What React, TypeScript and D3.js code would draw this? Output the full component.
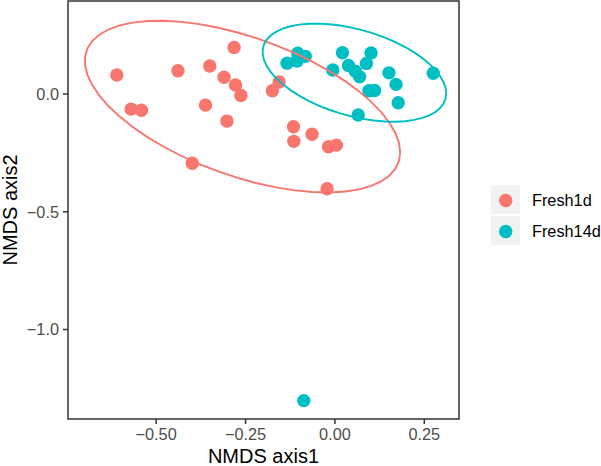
import React from "react";
import * as d3 from "d3";

const groupNames = ["Fresh1d", "Fresh14d"];
const groupColors = ["#F8766D", "#00BFC4"];

const fresh1dX = [-0.610, -0.439, -0.350, -0.282, -0.310, -0.278, -0.263, -0.570, -0.541, -0.362, -0.302, -0.399, -0.175, -0.156, -0.116, -0.115, -0.064, -0.018, 0.004, -0.022];
const fresh1dY = [0.081, 0.099, 0.119, 0.198, 0.071, 0.038, -0.006, -0.064, -0.069, -0.047, -0.115, -0.294, 0.014, 0.051, -0.139, -0.201, -0.171, -0.224, -0.217, -0.402];

const fresh14dX = [-0.134, -0.104, -0.083, -0.106, 0.021, -0.006, 0.038, 0.057, 0.069, 0.101, 0.088, 0.151, 0.171, 0.095, 0.111, 0.177, 0.065, 0.275, -0.087];
const fresh14dY = [0.131, 0.173, 0.160, 0.140, 0.175, 0.102, 0.121, 0.097, 0.073, 0.174, 0.130, 0.090, 0.041, 0.014, 0.015, -0.037, -0.089, 0.088, -1.302];

const xDomain = [-0.7465, 0.347];
const yDomain = [-1.38, 0.395];
const xTicks = [-0.5, -0.25, 0, 0.25];
const xTickLabels = ["\u22120.50", "\u22120.25", "0.00", "0.25"];
const yTicks = [0, -0.5, -1.0];
const yTickLabels = ["0.0", "\u22120.5", "\u22121.0"];

const W = 601;
const H = 466;
const P = { l: 68, t: 1, r: 459, b: 419 };
const FONT = "'Liberation Sans', Arial, Helvetica, sans-serif";

// MASS::cov.trob (2D)
function covTrob(xs: number[], ys: number[], nu = 5, maxit = 25, tol = 0.01) {
  const n = xs.length;
  const p = 2;
  let locX = d3.mean(xs)!;
  let locY = d3.mean(ys)!;
  let w = xs.map(() => 1);
  let X: number[][] = [];
  for (let iter = 0; iter < maxit; iter++) {
    const w0 = w.slice();
    X = xs.map((x, i) => [x - locX, ys[i] - locY]);
    const sw = d3.sum(w);
    let a = 0, b = 0, c = 0;
    for (let i = 0; i < n; i++) {
      a += (w[i] / sw) * X[i][0] * X[i][0];
      b += (w[i] / sw) * X[i][0] * X[i][1];
      c += (w[i] / sw) * X[i][1] * X[i][1];
    }
    const det = a * c - b * b;
    const ia = c / det, ib = -b / det, ic = a / det;
    const Q = X.map(([u, v]) => ia * u * u + 2 * ib * u * v + ic * v * v);
    w = Q.map((q) => (nu + p) / (nu + q));
    const sw2 = d3.sum(w);
    locX = d3.sum(xs.map((x, i) => w[i] * x)) / sw2;
    locY = d3.sum(ys.map((y, i) => w[i] * y)) / sw2;
    if (w.every((wi, i) => Math.abs(wi - w0[i]) < tol)) break;
  }
  let a = 0, b = 0, c = 0;
  for (let i = 0; i < n; i++) {
    a += w[i] * X[i][0] * X[i][0];
    b += w[i] * X[i][0] * X[i][1];
    c += w[i] * X[i][1] * X[i][1];
  }
  return { center: [locX, locY], cov: [a / n, b / n, c / n] };
}

function ellipsePoints(xs: number[], ys: number[], level = 0.95, segments = 51) {
  const dfd = xs.length - 1;
  const fq = (dfd / 2) * (Math.pow(1 - level, -2 / dfd) - 1);
  const radius = Math.sqrt(2 * fq);
  const { center, cov } = covTrob(xs, ys);
  const r11 = Math.sqrt(cov[0]);
  const r12 = cov[1] / r11;
  const r22 = Math.sqrt(cov[2] - r12 * r12);
  const pts: [number, number][] = [];
  for (let k = 0; k <= segments; k++) {
    const t = (k * 2 * Math.PI) / segments;
    const u1 = Math.cos(t), u2 = Math.sin(t);
    pts.push([center[0] + radius * u1 * r11, center[1] + radius * (u1 * r12 + u2 * r22)]);
  }
  return pts;
}

const groupsData = [
  { xs: fresh1dX, ys: fresh1dY },
  { xs: fresh14dX, ys: fresh14dY },
];

export default function App() {
  const ellipses = groupsData.map((g) => ellipsePoints(g.xs, g.ys));
  const xScale = d3.scaleLinear().domain(xDomain).range([P.l, P.r]);
  const yScale = d3.scaleLinear().domain(yDomain).range([P.b, P.t]);
  const line = d3
    .line<[number, number]>()
    .x((d) => xScale(d[0]))
    .y((d) => yScale(d[1]));

  return (
    <svg
      width={W}
      height={H}
      style={{ position: "absolute", left: 0, top: 0, background: "#fff" }}
      fontFamily={FONT}
    >
      <rect x={0} y={0} width={W} height={H} fill="#fff" />
      {groupsData.map((g, gi) => (
        <g key={gi}>
          {g.xs.map((x, i) => (
            <circle key={i} cx={xScale(x)} cy={yScale(g.ys[i])} r={6.7} fill={groupColors[gi]} />
          ))}
        </g>
      ))}
      {ellipses.map((e, gi) => (
        <path key={gi} d={line(e) || ""} fill="none" stroke={groupColors[gi]} strokeWidth={1.9} />
      ))}
      <rect
        x={P.l}
        y={P.t}
        width={P.r - P.l}
        height={P.b - P.t}
        fill="none"
        stroke="#333333"
        strokeWidth={1.5}
      />
      {xTicks.map((t, i) => (
        <g key={i}>
          <line x1={xScale(t)} x2={xScale(t)} y1={P.b} y2={P.b + 5} stroke="#333333" strokeWidth={1.5} />
          <text x={xScale(t)} y={440} textAnchor="middle" fontSize={16.3} fill="#4D4D4D">
            {xTickLabels[i]}
          </text>
        </g>
      ))}
      {yTicks.map((t, i) => (
        <g key={i}>
          <line x1={P.l - 5} x2={P.l} y1={yScale(t)} y2={yScale(t)} stroke="#333333" strokeWidth={1.5} />
          <text x={59} y={yScale(t)} dy="0.36em" textAnchor="end" fontSize={16.3} fill="#4D4D4D">
            {yTickLabels[i]}
          </text>
        </g>
      ))}
      <text x={(P.l + P.r) / 2} y={463} textAnchor="middle" fontSize={20} fill="#000">
        NMDS axis1
      </text>
      <text
        transform={`translate(17,${(P.t + P.b) / 2}) rotate(-90)`}
        textAnchor="middle"
        fontSize={20}
        fill="#000"
      >
        NMDS axis2
      </text>
      {groupNames.map((name, i) => (
        <g key={name}>
          <rect x={491} y={185 + i * 31} width={29} height={29} fill="#F2F2F2" />
          <circle cx={505.7} cy={200.5 + i * 31} r={6.7} fill={groupColors[i]} />
          <text x={532} y={200.5 + i * 31} dy="0.36em" fontSize={16.3} fill="#000">
            {name}
          </text>
        </g>
      ))}
    </svg>
  );
}
